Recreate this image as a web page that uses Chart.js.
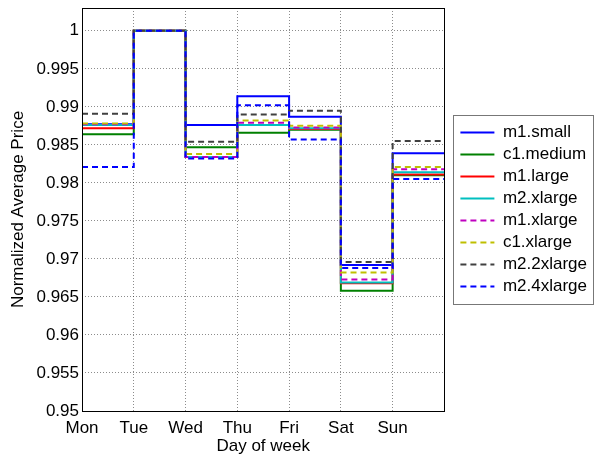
<!DOCTYPE html>
<html>
<head>
<meta charset="utf-8">
<script src="https://cdn.jsdelivr.net/npm/chart.js@4/dist/chart.umd.min.js"></script>
<style>
  html, body { margin: 0; padding: 0; background: #fff; }
  #wrap { width: 600px; height: 461px; }
</style>
</head>
<body>
<div id="wrap"><canvas id="myChart"></canvas></div>
<script>
// days of week (x positions 1..7, stairs run to 8)
var days = ['Mon', 'Tue', 'Wed', 'Thu', 'Fri', 'Sat', 'Sun'];
var yTicks = [0.95, 0.955, 0.96, 0.965, 0.97, 0.975, 0.98, 0.985, 0.99, 0.995, 1];

var m1small   = [0.9877, 1, 0.9876, 0.9914, 0.9887, 0.9692, 0.9839];
var c1medium  = [0.9864, 1, 0.9847, 0.9866, 0.9870, 0.9658, 0.9810];
var m1large   = [0.9872, 1, 0.9834, 0.9876, 0.9871, 0.9668, 0.9811];
var m2xlarge  = [0.9876, 1, 0.9834, 0.9876, 0.9872, 0.9669, 0.9814];
var m1xlarge  = [0.9877, 1, 0.9834, 0.9879, 0.9873, 0.9673, 0.9818];
var c1xlarge  = [0.9878, 1, 0.9838, 0.9882, 0.9875, 0.9682, 0.9821];
var m22xlarge = [0.9891, 1, 0.9854, 0.9890, 0.9895, 0.9696, 0.9855];
var m24xlarge = [0.9821, 1, 0.9832, 0.9902, 0.9857, 0.9688, 0.9805];

// stairs: each value holds from its day to the next, last one runs to x = 8
function stairs(vals) {
    var pts = vals.map(function (v, i) { return { x: i + 1, y: v }; });
    pts.push({ x: vals.length + 1, y: vals[vals.length - 1] });
    return pts;
}

var series = [
    ['m1.small',   m1small,   '#0000ff', []],
    ['c1.medium',  c1medium,  '#008000', []],
    ['m1.large',   m1large,   '#ff0000', []],
    ['m2.xlarge',  m2xlarge,  '#00bfbf', []],
    ['m1.xlarge',  m1xlarge,  '#bf00bf', [6, 4]],
    ['c1.xlarge',  c1xlarge,  '#bfbf00', [6, 4]],
    ['m2.2xlarge', m22xlarge, '#404040', [6, 4]],
    ['m2.4xlarge', m24xlarge, '#0000ff', [6, 4]]
];

var font = { family: "'Liberation Sans', Arial, sans-serif", size: 17 };

// box around plot area and legend (MATLAB style)
var boxPlugin = {
    id: 'boxes',
    afterLayout: function (chart) {
        // leave a gap between plot and legend box
        chart.legend.left += 11;
        chart.legend.right += 11;
    },
    afterDraw: function (chart) {
        var c = chart.ctx, a = chart.chartArea;
        c.save();
        c.strokeStyle = '#000';
        c.lineWidth = 1;
        c.setLineDash([]);
        c.strokeRect(Math.round(a.left) + 0.5, Math.round(a.top) + 0.5,
            Math.round(a.right - a.left), Math.round(a.bottom - a.top));
        var hb = chart.legend.legendHitBoxes;
        if (hb && hb.length) {
            var top = hb[0].top - 9, bottom = hb[hb.length - 1].top + hb[hb.length - 1].height + 9;
            var left = hb[0].left - 7, right = left + 140;
            c.strokeStyle = '#777';
            c.strokeRect(Math.round(left) + 0.5, Math.round(top) + 0.5,
                Math.round(right - left), Math.round(bottom - top));
        }
        c.restore();
    }
};

var ctx = document.getElementById('myChart').getContext('2d');
var myChart = new Chart(ctx, {
    type: 'line',
    data: {
        datasets: series.map(function (s, i) {
            return {
                label: s[0],
                data: stairs(s[1]),
                borderColor: s[2],
                backgroundColor: s[2],
                borderDash: s[3],
                borderWidth: 2,
                stepped: true,
                pointRadius: 0,
                fill: false,
                order: series.length - i
            };
        })
    },
    options: {
        responsive: true,
        maintainAspectRatio: false,
        animation: false,
        layout: { padding: { top: 8, right: 14, left: 0, bottom: 0 } },
        plugins: {
            tooltip: { enabled: false },
            legend: {
                position: 'right',
                fullSize: false,
                labels: {
                    font: font,
                    color: '#000',
                    usePointStyle: true,
                    pointStyle: 'line',
                    pointStyleWidth: 34,
                    boxWidth: 34,
                    boxHeight: 17,
                    padding: 5,
                    sort: function (a, b) { return a.datasetIndex - b.datasetIndex; },
                    generateLabels: function (chart) {
                        var items = Chart.defaults.plugins.legend.labels.generateLabels(chart);
                        items.forEach(function (it) {
                            var ds = chart.data.datasets[it.datasetIndex];
                            it.lineDash = ds.borderDash;
                            it.strokeStyle = ds.borderColor;
                            it.lineWidth = 2;
                        });
                        return items;
                    }
                }
            }
        },
        scales: {
            x: {
                type: 'linear',
                min: 1,
                max: 8,
                afterFit: function (s) { s.height = 50; s.paddingLeft = 0; s.paddingRight = 0; },
                ticks: {
                    stepSize: 1,
                    font: font,
                    color: '#000',
                    padding: 7,
                    maxRotation: 0,
                    callback: function (v) { return days[v - 1] || ''; }
                },
                grid: { color: 'rgba(0,0,0,0.45)', drawTicks: false },
                border: { display: false, dash: [1, 2] },
                title: { display: true, text: 'Day of week', font: font, color: '#000', padding: { top: 0, bottom: 4 } }
            },
            y: {
                min: 0.95,
                max: 1.003,
                afterFit: function (s) { s.width = 82; s.paddingTop = 0; s.paddingBottom = 0; },
                afterBuildTicks: function (s) {
                    s.ticks = yTicks.map(function (v) { return { value: v }; });
                },
                ticks: {
                    font: font,
                    color: '#000',
                    padding: 3,
                    callback: function (v) { return String(+v.toFixed(3)); }
                },
                grid: { color: 'rgba(0,0,0,0.45)', drawTicks: false },
                border: { display: false, dash: [1, 2] },
                title: { display: true, text: 'Normalized Average Price', font: font, color: '#000', padding: { top: 8, bottom: 0 } }
            }
        }
    },
    plugins: [boxPlugin]
});
</script>
</body>
</html>
